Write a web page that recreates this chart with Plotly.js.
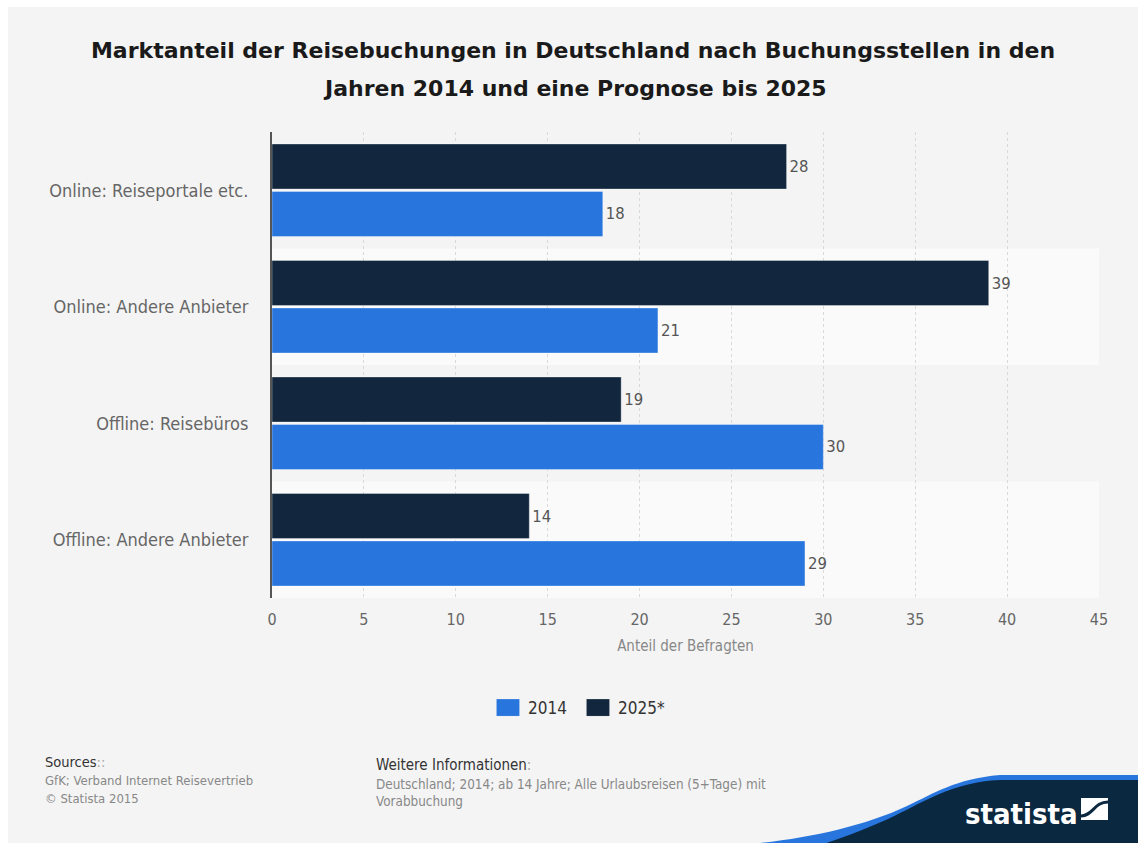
<!DOCTYPE html>
<html>
<head>
<meta charset="utf-8">
<script src="https://cdn.plot.ly/plotly-3.0.1.min.js"></script>
<style>
  html, body { margin: 0; padding: 0; background: #ffffff; }
  #chart { position: absolute; left: 8px; top: 7px; width: 1130px; height: 836px; }
</style>
</head>
<body>
<div id="chart"></div>
<script>
// ---- data ----
const categories = ["Online: Reiseportale etc.", "Online: Andere Anbieter", "Offline: Reisebüros", "Offline: Andere Anbieter"];
const values2014 = [18, 21, 30, 29];
const values2025 = [28, 39, 19, 14];
const seriesNames = ["2014", "2025*"];
const xTicks = [0, 5, 10, 15, 20, 25, 30, 35, 40, 45];
const titleLine1 = "Marktanteil der Reisebuchungen in Deutschland nach Buchungsstellen in den";
const titleLine2 = "Jahren 2014 und eine Prognose bis 2025";
const xAxisTitle = "Anteil der Befragten";

// ---- layout helpers (pixel -> paper) ----
const W = 1130, H = 836, ML = 264, MR = 39, MT = 125, MB = 245;
const PW = W - ML - MR, PH = H - MT - MB;
const OX = 8, OY = 7; // div offset in page
function px(xPage) { return (xPage - OX - ML) / PW; }
function py(yPage) { return (MT + PH - (yPage - OY)) / PH; }

const FONT = "DejaVu Sans Condensed, DejaVu Sans, sans-serif";
const BLUE = "#2876dd", NAVY = "#12263d";

const traces = [
  {
    type: "bar", orientation: "h", name: seriesNames[0],
    y: categories, x: values2014,
    text: values2014.map(String), textposition: "outside",
    textfont: { family: FONT, size: 16.5, color: "#555555" },
    marker: { color: BLUE, line: { color: "rgba(255,255,255,0.35)", width: 1 } },
    cliponaxis: false, hoverinfo: "skip"
  },
  {
    type: "bar", orientation: "h", name: seriesNames[1],
    y: categories, x: values2025,
    text: values2025.map(String), textposition: "outside",
    textfont: { family: FONT, size: 16.5, color: "#555555" },
    marker: { color: NAVY, line: { color: "rgba(255,255,255,0.35)", width: 1 } },
    cliponaxis: false, hoverinfo: "skip"
  }
];

const n = categories.length;
const shapes = [];
categories.forEach((c, k) => {
  if (k % 2 === 1) {
    const idx = n - 1 - k;
    shapes.push({ type: "rect", layer: "below", xref: "paper", yref: "y",
      x0: 0, x1: 1, y0: idx - 0.5, y1: idx + 0.5,
      fillcolor: "#fafafa", line: { width: 0 } });
  }
});

function pathFrom(points) {
  return points.map(p => {
    if (p[0] === "Z") return "Z";
    const cmd = p[0];
    const coords = [];
    for (let i = 1; i < p.length; i += 2) coords.push(px(p[i]) + "," + py(p[i + 1]));
    return cmd + coords.join(" ");
  }).join(" ");
}

// statista logo wave
shapes.push({ type: "path", xref: "paper", yref: "paper", layer: "above",
  path: pathFrom([["M", 740, 845], ["C", 800, 840, 860, 828, 907, 806], ["C", 935, 793, 955, 779, 1000, 775], ["L", 1140, 775], ["L", 1140, 845], ["Z"]]),
  fillcolor: BLUE, line: { width: 0 } });
shapes.push({ type: "path", xref: "paper", yref: "paper", layer: "above",
  path: pathFrom([["M", 820, 845], ["C", 848, 836, 868, 828, 888, 819], ["C", 922, 803, 952, 782, 1000, 780], ["L", 1140, 780], ["L", 1140, 845], ["Z"]]),
  fillcolor: "#0b2841", line: { width: 0 } });
shapes.push({ type: "rect", xref: "paper", yref: "paper", layer: "above",
  x0: px(1081), x1: px(1108), y0: py(820), y1: py(798),
  fillcolor: "#ffffff", line: { width: 0 } });
shapes.push({ type: "path", xref: "paper", yref: "paper", layer: "above",
  path: pathFrom([["M", 1081, 816], ["C", 1093, 816, 1094, 802, 1108, 802]]),
  line: { color: "#0b2841", width: 3 } });

const annotations = [
  { text: titleLine2, xref: "paper", yref: "paper", x: px(575), y: py(88), xanchor: "center", yanchor: "middle",
    showarrow: false, font: { family: "DejaVu Sans, sans-serif", size: 22, color: "#1a1a1a", weight: "bold" } },
  { text: "Sources<span style='color:#aaaaaa'>::</span>", xref: "paper", yref: "paper", x: px(43), y: py(762), xanchor: "left", yanchor: "middle",
    showarrow: false, font: { family: FONT, size: 14.5, color: "#333333" } },
  { text: "GfK; Verband Internet Reisevertrieb", xref: "paper", yref: "paper", x: px(43), y: py(780), xanchor: "left", yanchor: "middle",
    showarrow: false, font: { family: FONT, size: 13, color: "#888888" } },
  { text: "© Statista 2015", xref: "paper", yref: "paper", x: px(43), y: py(798), xanchor: "left", yanchor: "middle",
    showarrow: false, font: { family: FONT, size: 13, color: "#888888" } },
  { text: "Weitere Informationen<span style='color:#aaaaaa'>:</span>", xref: "paper", yref: "paper", x: px(374), y: py(765), xanchor: "left", yanchor: "middle",
    showarrow: false, font: { family: FONT, size: 15, color: "#333333" } },
  { text: "Deutschland; 2014; ab 14 Jahre; Alle Urlaubsreisen (5+Tage) mit", xref: "paper", yref: "paper", x: px(374), y: py(784), xanchor: "left", yanchor: "middle",
    showarrow: false, font: { family: FONT, size: 13.4, color: "#888888" } },
  { text: "Vorabbuchung", xref: "paper", yref: "paper", x: px(374), y: py(801), xanchor: "left", yanchor: "middle",
    showarrow: false, font: { family: FONT, size: 13.4, color: "#888888" } },
  { text: "statista", xref: "paper", yref: "paper", x: px(963), y: py(814), xanchor: "left", yanchor: "middle",
    showarrow: false, font: { family: FONT, size: 29, color: "#ffffff", weight: "bold" } }
];

const layout = {
  width: W, height: H,
  paper_bgcolor: "#f4f4f4", plot_bgcolor: "#f4f4f4",
  margin: { l: ML, r: MR, t: MT, b: MB, pad: 0 },
  font: { family: FONT, color: "#666666" },
  title: { text: titleLine1, x: 0.5, xanchor: "center", xref: "container",
    y: 1 - (50 - OY) / H, yanchor: "middle", yref: "container",
    font: { family: "DejaVu Sans, sans-serif", size: 22, color: "#1a1a1a", weight: "bold" } },
  barmode: "group", bargap: 0.185, bargroupgap: 0.05,
  showlegend: true,
  legend: { orientation: "h", xref: "container", yref: "container",
    x: 0.5044, xanchor: "center", y: 1 - (708 - OY) / H, yanchor: "middle",
    font: { family: FONT, size: 17, color: "#333333" }, traceorder: "normal",
    itemwidth: 30, entrywidth: 45, entrywidthmode: "pixels",
    bgcolor: "rgba(0,0,0,0)" },
  xaxis: {
    range: [0, 45], tickvals: xTicks, ticktext: xTicks.map(String),
    showgrid: true, gridcolor: "#d9d9d9", gridwidth: 1, griddash: "dot",
    zeroline: false, showline: false,
    ticks: "outside", ticklen: 7, tickcolor: "rgba(0,0,0,0)",
    tickfont: { family: FONT, size: 16, color: "#666666" },
    title: { text: xAxisTitle, standoff: 12, font: { family: FONT, size: 15, color: "#888888" } },
    fixedrange: true
  },
  yaxis: {
    type: "category", categoryorder: "array", categoryarray: categories.slice().reverse(),
    showgrid: false, zeroline: false,
    showline: true, linecolor: "#555555", linewidth: 2,
    ticks: "outside", ticklen: 18, tickcolor: "rgba(0,0,0,0)",
    tickfont: { family: FONT, size: 18, color: "#666666" },
    fixedrange: true
  },
  shapes: shapes,
  annotations: annotations
};

Plotly.newPlot("chart", traces, layout, { displayModeBar: false, staticPlot: true }).then(gd => {
  // enlarge legend swatches to the reference's wide boxes
  gd.querySelectorAll(".legend .legendpoints path").forEach(p => {
    p.setAttribute("d", "M11.5,8.5H-11.5V-8.5H11.5Z");
    p.style.strokeWidth = "1px";
    p.style.stroke = "rgba(255,255,255,0.35)";
  });
});
</script>
</body>
</html>
